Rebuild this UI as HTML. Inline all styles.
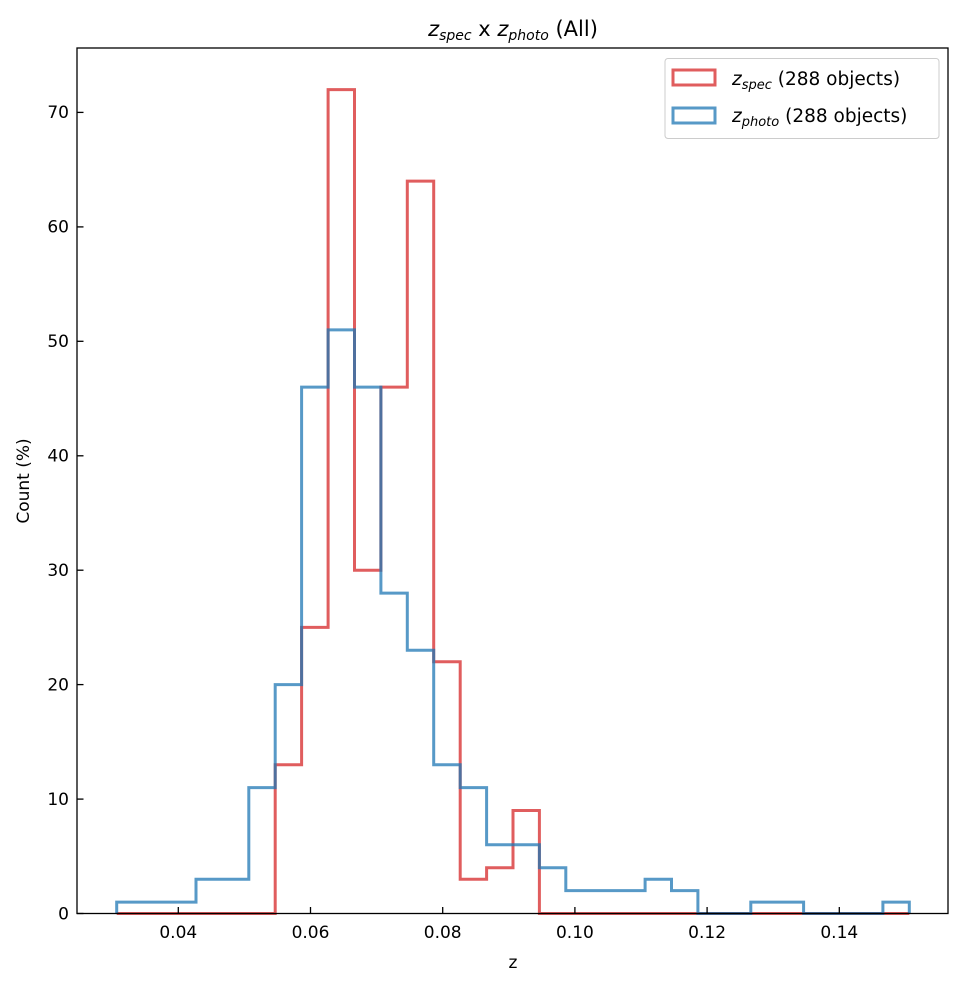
<!DOCTYPE html>
<html><head><style>body{margin:0;background:#fff}svg{display:block}text{font-family:"DejaVu Sans","Liberation Sans",sans-serif;fill:#000}</style></head>
<body>
<svg width="964" height="985" viewBox="0 0 964 985" xmlns="http://www.w3.org/2000/svg">
<rect width="964" height="985" fill="#fff"/>
<g fill="none" stroke-width="3" stroke-linejoin="miter">
<path stroke="#d62728" stroke-opacity="0.75" d="M116.7,913.5 H275.2 V764.7 H301.6 V627.4 H328.1 V89.6 H354.5 V570.2 H380.9 V387.1 H407.3 V181.1 H433.7 V661.7 H460.2 V879.2 H486.6 V867.7 H513.0 V810.5 H539.4 V913.5 H909.3"/>
<path stroke="#1f77b4" stroke-opacity="0.75" d="M116.7,913.5 V902.1 H196.0 V879.2 H248.8 V787.6 H275.2 V684.6 H301.6 V387.1 H328.1 V329.9 H354.5 V387.1 H380.9 V593.1 H407.3 V650.3 H433.7 V764.7 H460.2 V787.6 H486.6 V844.8 H539.4 V867.7 H565.8 V890.6 H645.1 V879.2 H671.5 V890.6 H697.9 V913.5 H750.8 V902.1 H803.6 V913.5 H882.9 V902.1 H909.3 V913.5"/>
</g>
<rect x="77" y="48" width="871" height="865.5" fill="none" stroke="#000" stroke-width="1.3"/>
<g stroke="#000" stroke-width="1.3">
<line x1="178.3" y1="913.5" x2="178.3" y2="907"/><line x1="310.5" y1="913.5" x2="310.5" y2="907"/><line x1="442.7" y1="913.5" x2="442.7" y2="907"/><line x1="574.9" y1="913.5" x2="574.9" y2="907"/><line x1="707.1" y1="913.5" x2="707.1" y2="907"/><line x1="839.3" y1="913.5" x2="839.3" y2="907"/>
<line x1="77" y1="913.5" x2="83.5" y2="913.5"/><line x1="77" y1="799.1" x2="83.5" y2="799.1"/><line x1="77" y1="684.6" x2="83.5" y2="684.6"/><line x1="77" y1="570.2" x2="83.5" y2="570.2"/><line x1="77" y1="455.8" x2="83.5" y2="455.8"/><line x1="77" y1="341.3" x2="83.5" y2="341.3"/><line x1="77" y1="226.9" x2="83.5" y2="226.9"/><line x1="77" y1="112.4" x2="83.5" y2="112.4"/>
</g>
<g font-size="17" text-anchor="middle">
<text x="178.3" y="938">0.04</text><text x="310.5" y="938">0.06</text><text x="442.7" y="938">0.08</text><text x="574.9" y="938">0.10</text><text x="707.1" y="938">0.12</text><text x="839.3" y="938">0.14</text>
<text x="513" y="968">z</text>
</g>
<g font-size="17" text-anchor="end">
<text x="69" y="919.5">0</text><text x="69" y="805">10</text><text x="69" y="690.5">20</text><text x="69" y="576">30</text><text x="69" y="461.5">40</text><text x="69" y="347">50</text><text x="69" y="232.5">60</text><text x="69" y="118">70</text>
</g>
<text font-size="17" text-anchor="middle" transform="translate(29,481) rotate(-90)">Count (%)</text>
<text x="513" y="36" font-size="21" text-anchor="middle"><tspan font-style="italic">z</tspan><tspan font-size="14" font-style="italic" dy="4">spec</tspan><tspan dy="-4"> x </tspan><tspan font-style="italic">z</tspan><tspan font-size="14" font-style="italic" dy="4">photo</tspan><tspan dy="-4"> (All)</tspan></text>
<rect x="665" y="58.5" width="274" height="80" rx="3" fill="#fff" stroke="#ccc" stroke-width="1"/>
<rect x="673" y="70" width="42" height="15" fill="none" stroke="#d62728" stroke-opacity="0.75" stroke-width="3"/>
<rect x="673" y="108" width="42" height="15" fill="none" stroke="#1f77b4" stroke-opacity="0.75" stroke-width="3"/>
<text x="732" y="85" font-size="18.5"><tspan font-style="italic">z</tspan><tspan font-size="13" font-style="italic" dy="4">spec</tspan><tspan dy="-4"> (288 objects)</tspan></text>
<text x="732" y="122" font-size="18.5"><tspan font-style="italic">z</tspan><tspan font-size="13" font-style="italic" dy="4">photo</tspan><tspan dy="-4"> (288 objects)</tspan></text>
</svg>
</body></html>
